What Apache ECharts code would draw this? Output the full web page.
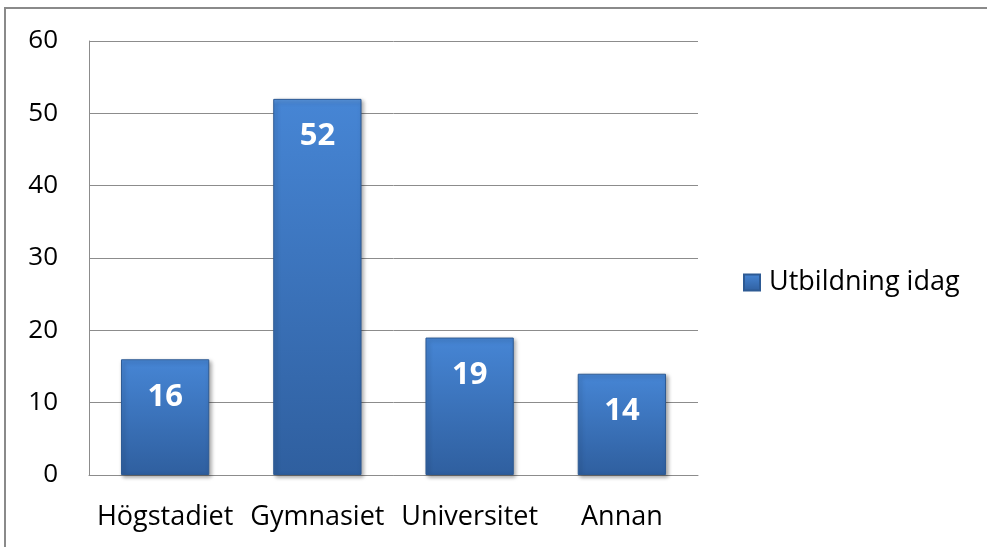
<!DOCTYPE html>
<html>
<head>
<meta charset="utf-8">
<script src="https://cdn.jsdelivr.net/npm/echarts@6/dist/echarts.min.js"></script>
<style>
  html, body { margin: 0; padding: 0; background: #fff; }
  #bar { width: 987px; height: 547px; }
</style>
</head>
<body>
<div id="bar"></div>
<script>
var categories = ['Högstadiet', 'Gymnasiet', 'Universitet', 'Annan'];
var seriesName = 'Utbildning idag';
var values = [16, 52, 19, 14];
var yTicks = [0, 10, 20, 30, 40, 50, 60];

var chartDom = document.getElementById('bar');
var myChart = echarts.init(chartDom);
var option;

var barColor = new echarts.graphic.LinearGradient(0, 0, 0, 1, [
  { offset: 0, color: '#5a96de' },
  { offset: 0.015, color: '#4685d4' },
  { offset: 1, color: '#2f5f9f' }
]);

option = {
  animation: false,
  textStyle: { fontFamily: 'Open Sans' },
  graphic: [
    {
      type: 'rect',
      silent: true,
      shape: { x: 5, y: 8, width: 1100, height: 700 },
      style: { fill: 'none', stroke: '#8a8a8a', lineWidth: 2 }
    }
  ],
  legend: {
    data: [seriesName],
    orient: 'vertical',
    left: 743,
    top: 269,
    padding: 0,
    itemWidth: 16,
    itemHeight: 16,
    icon: 'rect',
    textStyle: { fontSize: 27, color: '#000', fontFamily: 'Open Sans', padding: [0, 0, 0, 4] }
  },
  grid: {
    left: 89,
    top: 41,
    right: 289,
    bottom: 72
  },
  xAxis: {
    type: 'category',
    data: categories,
    axisLine: { lineStyle: { color: '#8c8c8c', width: 1 } },
    axisTick: { show: false },
    axisLabel: { fontSize: 27, color: '#000', margin: 29, interval: 0 }
  },
  yAxis: {
    type: 'value',
    min: yTicks[0],
    max: yTicks[yTicks.length - 1],
    interval: 10,
    axisLine: { show: true, lineStyle: { color: '#8c8c8c', width: 1 } },
    axisTick: { show: false },
    axisLabel: { fontSize: 26, color: '#000', margin: 31 },
    splitLine: { lineStyle: { color: '#8c8c8c', width: 1 } }
  },
  series: [
    {
      name: seriesName,
      type: 'bar',
      data: values,
      barWidth: '58%',
      itemStyle: {
        color: barColor,
        borderColor: '#2d5a94',
        borderWidth: 1,
        shadowColor: 'rgba(0,0,0,0.35)',
        shadowBlur: 4,
        shadowOffsetX: 2,
        shadowOffsetY: 2
      },
      label: {
        show: true,
        position: 'insideTop',
        distance: 22,
        color: '#fff',
        fontSize: 31,
        fontWeight: 'bold',
        fontFamily: 'Open Sans'
      }
    }
  ]
};
option && myChart.setOption(option);
</script>
</body>
</html>
